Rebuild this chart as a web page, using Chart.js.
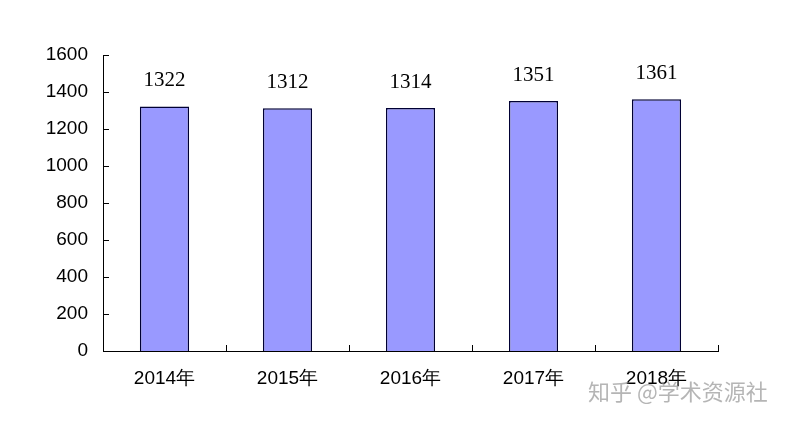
<!DOCTYPE html>
<html>
<head>
<meta charset="utf-8">
<script src="https://cdn.jsdelivr.net/npm/chart.js@4.4.1/dist/chart.umd.min.js"></script>
<style>
  html, body { margin: 0; padding: 0; background: #fff; }
  #wrap { width: 802px; height: 424px; }
</style>
</head>
<body>
<div id="wrap"><canvas id="myChart" width="802" height="424"></canvas></div>
<script>
var years = ['2014年', '2015年', '2016年', '2017年', '2018年'];
var counts = [1322, 1312, 1314, 1351, 1361];
var yTicks = [0, 200, 400, 600, 800, 1000, 1200, 1400, 1600];
var watermark = '知乎 @学术资源社';

// little inner tick marks, value labels and the watermark
var extras = {
  id: 'extras',
  afterDraw: function(chart) {
    var ctx = chart.ctx;
    var x = chart.scales.x, y = chart.scales.y;
    var area = chart.chartArea;
    ctx.save();
    ctx.strokeStyle = '#000';
    ctx.lineWidth = 1;
    ctx.beginPath();
    for (var i = 0; i < yTicks.length; i++) {
      var py = Math.round(y.getPixelForValue(yTicks[i])) + 0.5;
      ctx.moveTo(area.left, py);
      ctx.lineTo(area.left + 6, py);
    }
    var step = (area.right - area.left) / years.length;
    for (var j = 1; j <= years.length; j++) {
      var px = Math.round(area.left + step * j) + 0.5;
      ctx.moveTo(px, area.bottom);
      ctx.lineTo(px, area.bottom - 6);
    }
    ctx.stroke();

    var meta = chart.getDatasetMeta(0);
    ctx.fillStyle = '#000';
    ctx.font = '21px "Liberation Serif", serif';
    ctx.textAlign = 'center';
    ctx.textBaseline = 'bottom';
    meta.data.forEach(function(bar, k) {
      ctx.fillText(String(counts[k]), bar.x, bar.y - 15);
    });

    ctx.fillStyle = 'rgba(150,150,150,0.7)';
    ctx.font = '22px "Noto Sans CJK SC", sans-serif';
    ctx.textAlign = 'left';
    ctx.textBaseline = 'middle';
    ctx.fillText(watermark, 588, 392);
    ctx.restore();
  }
};

const data = {
  labels: years,
  datasets: [
    {
      label: '数量',
      data: counts,
      backgroundColor: '#9999FF',
      borderColor: '#000033',
      borderWidth: 1.5,
      borderSkipped: 'bottom',
      categoryPercentage: 0.4,
      barPercentage: 1.0
    }
  ]
};

const config = {
  type: 'bar',
  data: data,
  options: {
    responsive: false,
    animation: false,
    layout: { padding: { left: 0, right: 84, top: 55, bottom: 0 } },
    plugins: {
      legend: { display: false },
      tooltip: { enabled: false }
    },
    scales: {
      x: {
        grid: { display: false, drawTicks: false },
        border: { display: true, color: '#000', width: 1 },
        ticks: {
          color: '#000',
          padding: 16,
          font: { size: 19, family: '"Liberation Sans", Arial, sans-serif' }
        },
        afterFit: function(s) { s.height = 73; }
      },
      y: {
        min: 0,
        max: 1600,
        grid: { display: false, drawTicks: false },
        border: { display: true, color: '#000', width: 1 },
        ticks: {
          stepSize: 200,
          color: '#000',
          padding: 15,
          font: { size: 19, family: '"Liberation Sans", Arial, sans-serif' },
          callback: function(v) { return String(v); }
        },
        afterFit: function(s) { s.width = 103; }
      }
    }
  },
  plugins: [extras]
};

var ctx = document.getElementById('myChart').getContext('2d');
var myChart = new Chart(ctx, config);
</script>
</body>
</html>
